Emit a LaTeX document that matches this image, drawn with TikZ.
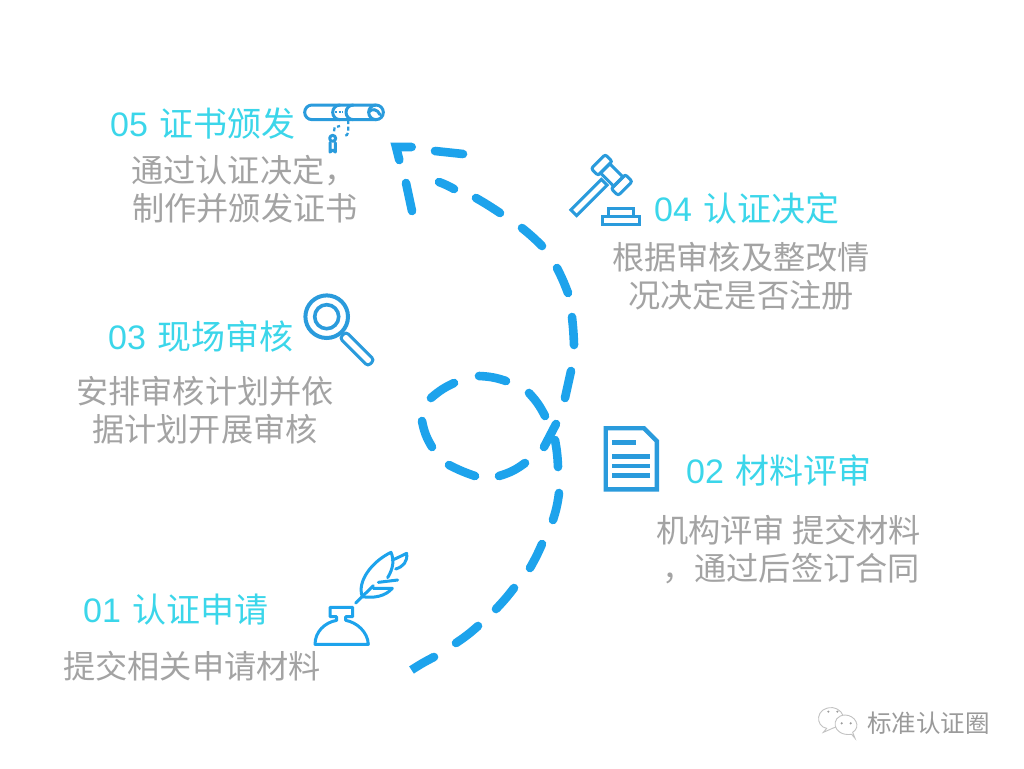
\documentclass[tikz,border=0pt]{standalone}
\usepackage{fontspec}
\setmainfont{Liberation Sans}
\newfontfamily\cjk{Noto Sans CJK SC}
\definecolor{headc}{HTML}{3BD6EA}
\definecolor{bodyc}{HTML}{A3A3A3}
\definecolor{dashc}{HTML}{1DA3EC}
\definecolor{iconc}{HTML}{2A9BDC}
\definecolor{wmc}{HTML}{9A9A9A}
\newcommand{\hd}[2]{#1\hspace{0.35em}{\cjk #2}}
\tikzset{
 head/.style={anchor=base west,inner sep=0pt,text=headc,font=\fontsize{34}{34}\selectfont},
 body/.style={anchor=base west,inner sep=0pt,text=bodyc,font=\cjk\fontsize{32.2}{32.2}\selectfont},
 dashseg/.style={draw=dashc,line width=8.6pt,line cap=round},
 icon/.style={draw=iconc,line width=3pt,line join=round,line cap=round},
 rot/.style={draw=iconc,line width=3pt,rounded corners=2.5pt,inner sep=0pt},
}
\begin{document}
\begin{tikzpicture}[x=1pt,y=-1pt]
\useasboundingbox (0,0) rectangle (1024,768);
\fill[white] (0,0) rectangle (1024,768);
% headings
\node[head] (h5) at (110,136) {\hd{05}{证书颁发}};
\node[head] (h4) at (654,221) {\hd{04}{认证决定}};
\node[head] (h3) at (108,349) {\hd{03}{现场审核}};
\node[head] (h2) at (686,483) {\hd{02}{材料评审}};
\node[head] (h1) at (83,622) {\hd{01}{认证申请}};
% body
\node[body] (b5a) at (131,182) {通过认证决定，};
\node[body] (b5b) at (132,220) {制作并颁发证书};
\node[body] (b4a) at (612,269) {根据审核及整改情};
\node[body] (b4b) at (628,307) {况决定是否注册};
\node[body] (b3a) at (76,403) {安排审核计划并依};
\node[body] (b3b) at (92,441) {据计划开展审核};
\node[body] (b2a) at (656,542) {机构评审 提交材料};
\node[body] (b2b) at (662,580) {，通过后签订合同};
\node[body] (b1a) at (63,678) {提交相关申请材料};
% dashes: main curve
\draw[dashc,line width=8.6pt,line cap=butt] (434,657) to[bend right=3] (411.5,670);
\fill[dashc] (434,657) circle[radius=4.3pt];
\draw[dashseg] (478,626) to[bend left=4] (456,643);
\draw[dashseg] (514,588) to[bend left=3] (496,609);
\draw[dashseg] (542,544) to[bend left=3] (530,568);
\draw[dashseg] (559,493) to[bend left=5] (553,520);
\draw[dashseg] (555,440) to[bend left=4] (558,467);
\draw[dashseg] (556,424) -- (544,447);
\draw[dashseg] (545,416) to[bend right=8] (529,393);
\draw[dashseg] (506,381) to[bend right=8] (479,376);
\draw[dashseg] (454,383) to[bend right=8] (431,398);
\draw[dashseg] (422,421) to[bend right=10] (432,447);
\draw[dashseg] (449,465) to[bend right=4] (475,476);
\draw[dashseg] (499,476) to[bend right=10] (525,463);
\draw[dashseg] (571,371) -- (565,398);
\draw[dashseg] (572,317) to[bend left=2] (574,345);
\draw[dashseg] (557,268) to[bend left=3] (568,293);
\draw[dashseg] (522,228) to[bend left=3] (542,246);
\draw[dashseg] (476,198) to[bend left=2] (500,213);
\draw[dashseg] (439,182) to[bend left=4] (454,189);
\draw[dashseg] (435,151) -- (463,154);
\draw[dashseg] (406,183) -- (412,211);
\draw[dashseg,line join=miter] (399.3,160) -- (396,147) -- (411.7,147);
% scroll
\begin{scope}[shift={(290,90)},scale=1/3]
\draw[icon] (66,45) -- (258,45) arc[start angle=-90,end angle=90,radius=22] -- (66,89) arc[start angle=90,end angle=270,radius=22] -- cycle;
\draw[icon] (150,45) arc[start angle=-90,end angle=-270,radius=22];
\draw[icon] (190,45) arc[start angle=-90,end angle=-270,radius=22];
\draw[icon] (258,45) arc[start angle=-90,end angle=-270,radius=22];
\draw[icon] (236,66) .. controls (245,55) and (262,56) .. (270,74);
\draw[iconc,line width=2.4pt,dash pattern=on 2pt off 1.6pt] (135,66) -- (158,66);
\draw[iconc,line width=2.2pt,dash pattern=on 4pt off 2.5pt] (175,90) -- (175,125) arc[start angle=0,end angle=90,radius=14];
\draw[iconc,line width=2.2pt,dash pattern=on 4pt off 2.5pt] (132,124) -- (134,112) -- (150,108);
\draw[icon] (128,145) circle[radius=9];
\draw[icon] (120,158) -- (120,186) -- (128,180) -- (136,186) -- (136,158);
\end{scope}
% gavel
\node[rot,rotate=45,minimum width=20pt,minimum height=10pt] (gc1) at (601.7,165) {};
\node[rot,rotate=45,minimum width=20pt,minimum height=10pt] (gc2) at (621.7,185) {};
\node[draw=iconc,line width=3pt,rotate=-45,minimum width=19pt,minimum height=13pt,inner sep=0pt] (gb) at (611.7,175) {};
\node[draw=iconc,line width=3pt,rotate=45,minimum width=43pt,minimum height=8pt,inner sep=0pt] (gh) at (589,197.5) {};
\draw[icon,line join=miter,line cap=butt] (608,216.5) -- (608,208.5) -- (633,208.5) -- (633,216.5);
\draw[icon,line join=miter] (602,216.5) rectangle (639,224.5);
% magnifier
\draw[iconc,line width=4pt] (326.7,316.7) circle[radius=21.3];
\draw[iconc,line width=3.6pt] (326.7,316.7) circle[radius=12];
\node[rot,rounded corners=3.5pt,rotate=-45,minimum width=40pt,minimum height=9pt] (mh) at (357,349) {};
% document
\draw[iconc,line width=4.4pt,line join=miter] (605.7,428.2) -- (644,428.2) -- (656.8,441) -- (656.8,489.3) -- (605.7,489.3) -- cycle;
\draw[iconc,line width=4.6pt] (612.3,442.7) -- (635.7,442.7);
\draw[iconc,line width=4.6pt] (612.3,456.7) -- (650,456.7);
\draw[iconc,line width=4.6pt] (612.3,466) -- (650,466);
\draw[iconc,line width=4.6pt] (612.3,475.3) -- (650,475.3);
% ink and feather
\begin{scope}[shift={(305,545)},scale=1/3]
\draw[icon,draw=dashc] (30,298) -- (190,298) .. controls (188,260) and (155,232) .. (122,226) -- (122,215) -- (143,215) -- (143,187) -- (75,187) -- (75,215) -- (95,215) -- (95,226) .. controls (60,232) and (30,260) .. (30,298) -- cycle;
\draw[icon,draw=dashc] (152,174) -- (205,122);
\draw[icon,draw=dashc] (172,155) .. controls (155,110) and (200,50) .. (258,22) .. controls (268,45) and (265,70) .. (248,98);
\draw[icon,draw=dashc] (262,45) .. controls (275,40) and (290,32) .. (305,25) .. controls (308,50) and (295,65) .. (272,72);
\draw[icon,draw=dashc] (220,112) -- (278,105);
\draw[icon,draw=dashc] (205,130) -- (262,130) .. controls (240,155) and (205,160) .. (172,155);
\end{scope}
% watermark
\begin{scope}[shift={(810,695)},scale=1/3]
\draw[wmc!60,line width=.9pt,fill=white] (50,100) -- (40,112) -- (72,98) .. controls (110,100) and (112,45) .. (68,38) .. controls (15,35) and (15,95) .. (50,100) -- cycle;
\draw[wmc!60,line width=.9pt,fill=white] (125,118) -- (135,130) -- (128,112) .. controls (155,95) and (135,60) .. (105,60) .. controls (60,62) and (65,125) .. (125,118) -- cycle;
\fill[wmc] (55,50) circle[radius=3.5] (82,50) circle[radius=3.5] (95,85) circle[radius=3.5] (122,85) circle[radius=3.5];
\end{scope}
\node[anchor=base west,inner sep=0pt,text=wmc,font=\cjk\fontsize{24.5}{24.5}\selectfont] (wm) at (867,732) {标准认证圈};
\end{tikzpicture}
\end{document}
